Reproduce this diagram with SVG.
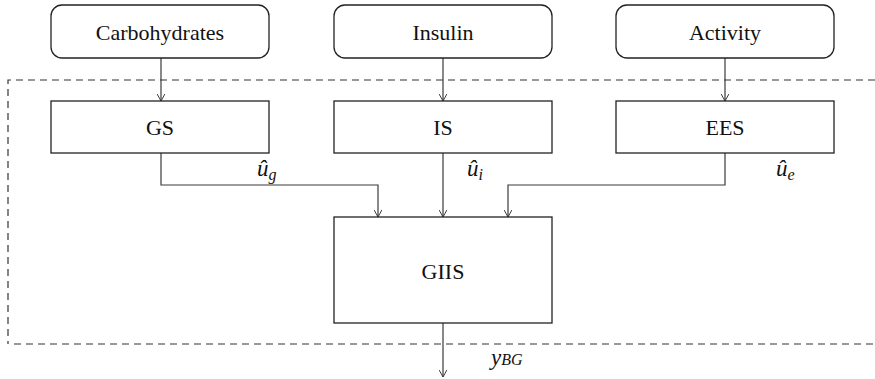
<svg xmlns="http://www.w3.org/2000/svg" width="875" height="379" viewBox="0 0 875 379">
  <defs>
    <marker id="vhead" viewBox="0 0 10 10" refX="9" refY="5" markerWidth="8" markerHeight="8" markerUnits="userSpaceOnUse" orient="auto">
      <path d="M0,0 L9,5 L0,10" fill="none" stroke="#333" stroke-width="1.2"/>
    </marker>
  </defs>
  <style>
    .box { fill: #fff; stroke: #222; stroke-width: 1.3; }
    .lbl { font-family: "Liberation Serif", "Times New Roman", serif; font-size: 22px; fill: #111; text-anchor: middle; }
    .sig { font-family: "Liberation Serif", "Times New Roman", serif; font-style: italic; fill: #111; }
    .arrow { fill: none; stroke: #3a3a3a; stroke-width: 1.2; marker-end: url(#vhead); }
    .boundary { fill: none; stroke: #333; stroke-width: 1.2; stroke-dasharray: 7 5; }
  </style>
  <rect width="875" height="379" fill="#fff"/>

  <!-- system boundary -->
  <g id="boundary">
    <path class="boundary" d="M875,80 H8 V344"/>
    <path class="boundary" d="M14,344 H875"/>
  </g>

  <!-- connectors -->
  <g id="connectors">
    <path class="arrow" d="M161,58 V101"/>
    <path class="arrow" d="M443,58 V101"/>
    <path class="arrow" d="M725,58 V101"/>
    <path class="arrow" d="M161,153 V185 H378 V217"/>
    <path class="arrow" d="M443,153 V217"/>
    <path class="arrow" d="M725,153 V185 H508 V217"/>
    <path class="arrow" d="M443,323 V377"/>
  </g>

  <!-- inputs -->
  <g id="carbohydrates">
    <rect class="box" x="51" y="5" width="218" height="53" rx="11" ry="11"/>
    <text class="lbl" x="160" y="40">Carbohydrates</text>
  </g>
  <g id="insulin">
    <rect class="box" x="334" y="5" width="218" height="53" rx="11" ry="11"/>
    <text class="lbl" x="443" y="40">Insulin</text>
  </g>
  <g id="activity">
    <rect class="box" x="616" y="5" width="218" height="53" rx="11" ry="11"/>
    <text class="lbl" x="725" y="40">Activity</text>
  </g>

  <!-- subsystems -->
  <g id="gs">
    <rect class="box" x="51" y="101" width="218" height="52"/>
    <text class="lbl" x="160" y="135">GS</text>
  </g>
  <g id="is">
    <rect class="box" x="334" y="101" width="218" height="52"/>
    <text class="lbl" x="443" y="135">IS</text>
  </g>
  <g id="ees">
    <rect class="box" x="616" y="101" width="218" height="52"/>
    <text class="lbl" x="725" y="135">EES</text>
  </g>
  <g id="giis">
    <rect class="box" x="334" y="217" width="218" height="106"/>
    <text class="lbl" x="443" y="279">GIIS</text>
  </g>

  <!-- signal labels -->
  <g id="signals">
    <text class="sig" x="257" y="176" font-size="23">û<tspan font-size="16" dy="4">g</tspan></text>
    <text class="sig" x="467" y="176" font-size="23">û<tspan font-size="16" dy="4">i</tspan></text>
    <text class="sig" x="776" y="176" font-size="23">û<tspan font-size="16" dy="4">e</tspan></text>
    <text class="sig" x="491" y="365" font-size="23">y<tspan font-size="16">BG</tspan></text>
  </g>
</svg>
